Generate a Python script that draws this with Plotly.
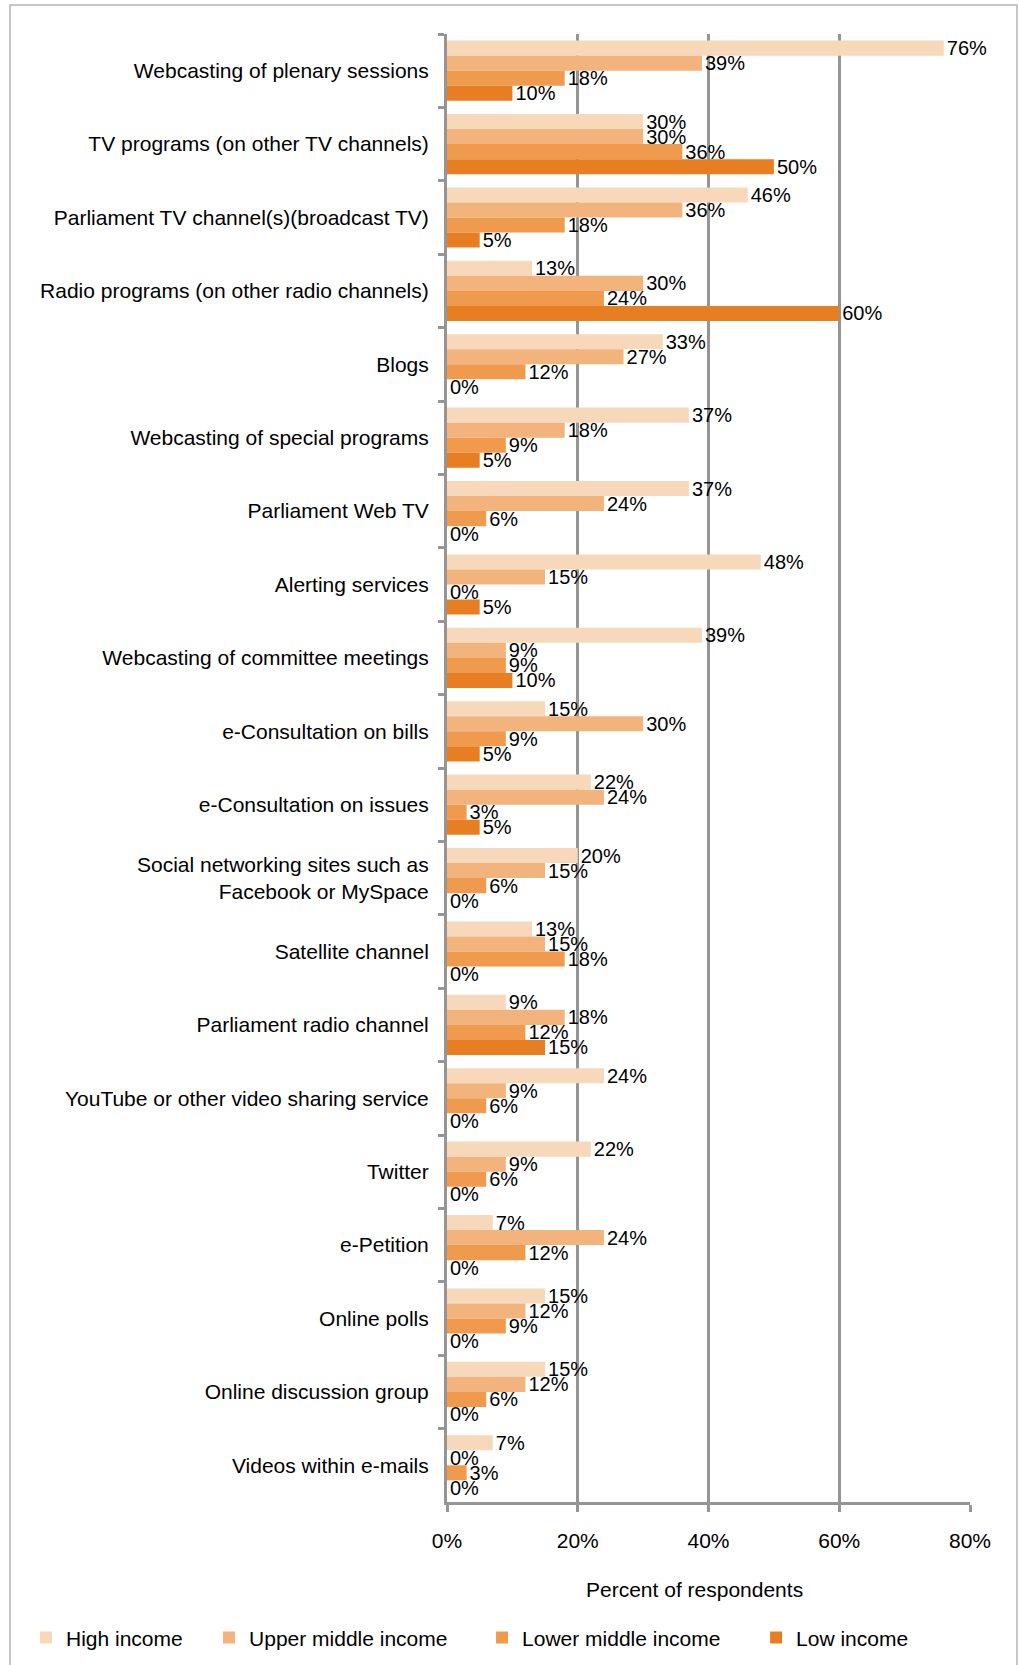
import plotly.graph_objects as go

categories = [
    "Webcasting of plenary sessions",
    "TV programs (on other TV channels)",
    "Parliament TV channel(s)(broadcast TV)",
    "Radio programs (on other radio channels)",
    "Blogs",
    "Webcasting of special programs",
    "Parliament Web TV",
    "Alerting services",
    "Webcasting of committee meetings",
    "e-Consultation on bills",
    "e-Consultation on issues",
    "Social networking sites such as<br>Facebook or MySpace",
    "Satellite channel",
    "Parliament radio channel",
    "YouTube or other video sharing service",
    "Twitter",
    "e-Petition",
    "Online polls",
    "Online discussion group",
    "Videos within e-mails",
]

high_income = [76, 30, 46, 13, 33, 37, 37, 48, 39, 15, 22, 20, 13, 9, 24, 22, 7, 15, 15, 7]
upper_middle_income = [39, 30, 36, 30, 27, 18, 24, 15, 9, 30, 24, 15, 15, 18, 9, 9, 24, 12, 12, 0]
lower_middle_income = [18, 36, 18, 24, 12, 9, 6, 0, 9, 9, 3, 6, 18, 12, 6, 6, 12, 9, 6, 3]
low_income = [10, 50, 5, 60, 0, 5, 0, 5, 10, 5, 5, 0, 0, 15, 0, 0, 0, 0, 0, 0]

series_names = ["High income", "Upper middle income", "Lower middle income", "Low income"]
series_values = [high_income, upper_middle_income, lower_middle_income, low_income]
colors = ["#F7D8BA", "#F2B37D", "#EF9A4C", "#E87E22"]
legend_ids = ["legend", "legend2", "legend3", "legend4"]
legend_x = [-0.805, -0.455, 0.067, 0.591]

x_ticks = [0, 20, 40, 60, 80]

FONT = "Liberation Sans, Arial, sans-serif"
GRID = "#959595"
FS = 21

fig = go.Figure()
for name, vals, col, lg in zip(series_names, series_values, colors, legend_ids):
    fig.add_trace(go.Bar(
        y=categories, x=vals, name=name, orientation="h",
        marker=dict(color=col, line=dict(width=0)),
        text=[f"{v}%" for v in vals], textposition="outside",
        textfont=dict(family=FONT, size=20, color="#000000"),
        constraintext="none", cliponaxis=False,
        legend=lg,
    ))

legend_common = dict(orientation="h", yanchor="middle", y=-0.0926, xanchor="left",
                     font=dict(family=FONT, size=FS, color="#000000"),
                     bgcolor="rgba(0,0,0,0)", borderwidth=0)

fig.update_layout(
    width=1019, height=1665,
    margin=dict(l=447, r=49, t=34, b=163, autoexpand=False),
    paper_bgcolor="white", plot_bgcolor="white",
    barmode="group", bargap=0.18, bargroupgap=0,
    font=dict(family=FONT, size=FS, color="#000000"),
    showlegend=True,
    legend=dict(x=legend_x[0], **legend_common),
    legend2=dict(x=legend_x[1], **legend_common),
    legend3=dict(x=legend_x[2], **legend_common),
    legend4=dict(x=legend_x[3], **legend_common),
    xaxis=dict(
        range=[0, 80], tickvals=x_ticks, ticktext=[f"{t}%" for t in x_ticks],
        showgrid=True, gridcolor=GRID, gridwidth=3,
        showline=True, linecolor=GRID, linewidth=3,
        ticks="outside", ticklen=7, tickwidth=3, tickcolor=GRID,
        ticklabelstandoff=11, zeroline=False, automargin=False,
        tickfont=dict(family=FONT, size=FS, color="#000000"),
    ),
    yaxis=dict(
        autorange="reversed", showgrid=False,
        showline=True, linecolor=GRID, linewidth=3,
        ticks="outside", ticklen=6, tickwidth=3, tickcolor=GRID,
        tickson="boundaries", ticklabelstandoff=11, automargin=False,
        tickfont=dict(family=FONT, size=FS, color="#000000"),
    ),
    annotations=[dict(
        text="Percent of respondents", xref="paper", yref="paper",
        x=0.4723, y=-0.0593, xanchor="center", yanchor="middle", showarrow=False,
        font=dict(family=FONT, size=FS, color="#000000"),
    )],
    shapes=[dict(
        type="rect", xref="paper", yref="paper",
        x0=(10 - 447) / 523, x1=(1017 - 447) / 523,
        y0=-0.2, y1=(1502 - 5) / 1468,
        line=dict(color="#B4B4B4", width=1.5), fillcolor="rgba(0,0,0,0)", layer="below",
    )],
)

fig.write_html("out.html")
